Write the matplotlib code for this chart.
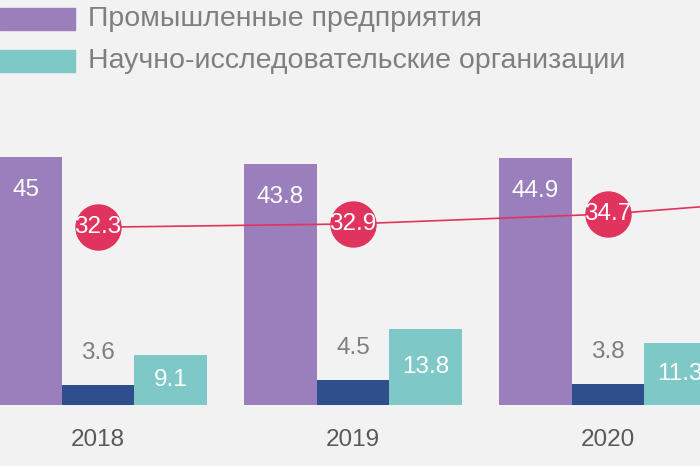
import matplotlib.pyplot as plt
import numpy as np

plt.rcParams['font.family'] = 'Liberation Sans'

years = ['2018', '2019', '2020']
industry = [45, 43.8, 44.9]
other = [3.6, 4.5, 3.8]
research = [9.1, 13.8, 11.3]
# line continues toward the next (cropped) year
line_years = [0, 1, 2, 3]
line_vals = [32.3, 32.9, 34.7, 38.3]

c_ind = '#9b7fbd'
c_oth = '#2f4f8c'
c_res = '#7ec9c7'
c_line = '#e0335e'
gray = '#7f7f7f'

fig = plt.figure(figsize=(7, 4.66), dpi=100, facecolor='#f2f2f2')
ax = fig.add_axes([0, 0, 1, 1])
ax.set_facecolor('#f2f2f2')

x = np.arange(len(years))
w = 0.284
ax.bar(x - w, industry, w, color=c_ind)
ax.bar(x, other, w, color=c_oth)
ax.bar(x + w, research, w, color=c_res)

ax.plot(line_years, line_vals, color=c_line, lw=1.2, zorder=3)
ax.scatter(x, line_vals[:3], s=1050, color=c_line, zorder=4)

for i in x:
    ax.text(i - w, industry[i] - 6, f'{industry[i]:g}', ha='center', va='center',
            color='white', fontsize=17.5)
    ax.text(i, other[i] + 5.8, f'{other[i]:g}', ha='center', va='center',
            color=gray, fontsize=17.5)
    ax.text(i + w, research[i] / 2, f'{research[i]:g}', ha='center', va='center',
            color='white', fontsize=17.5)
    ax.text(i, line_vals[i], f'{line_vals[i]:g}', ha='center', va='center',
            color='white', fontsize=17.5, zorder=5)
    ax.text(i, -6.4, years[i], ha='center', va='center', color='#595959', fontsize=17.5)

ax.set_xlim(-0.384, 2.361)
ax.set_ylim(-11.1, 73.6)
ax.axis('off')

# legend
fig.patches.append(plt.Rectangle((0, 1 - 30 / 466), 75 / 700, 22 / 466,
                                 transform=fig.transFigure, color=c_ind))
fig.patches.append(plt.Rectangle((0, 1 - 72 / 466), 75 / 700, 22 / 466,
                                 transform=fig.transFigure, color=c_res))
fig.text(88 / 700, 1 - 19 / 466, 'Промышленные предприятия', va='center',
         color=gray, fontsize=20.5)
fig.text(88 / 700, 1 - 61 / 466, 'Научно-исследовательские организации', va='center',
         color=gray, fontsize=20.5)

fig.savefig('out.png', dpi=100, facecolor=fig.get_facecolor())
